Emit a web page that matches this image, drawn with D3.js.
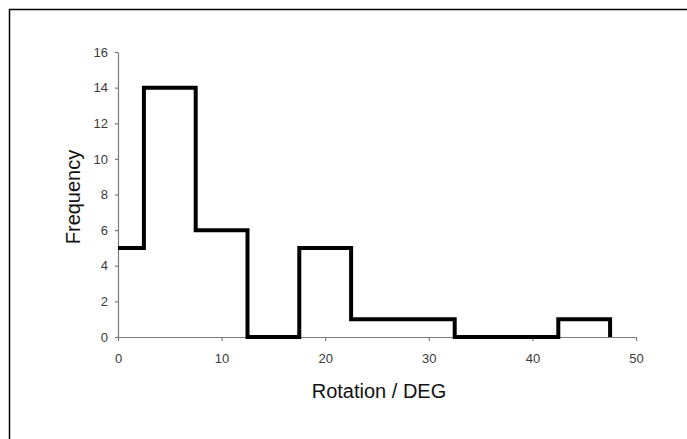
<!DOCTYPE html>
<html>
<head>
<meta charset="utf-8">
<script src="https://cdn.jsdelivr.net/npm/d3@7"></script>
<style>
  html, body { margin: 0; background: #fff; overflow: hidden; }
  svg { display: block; font-family: Arial, "Liberation Sans", sans-serif; }
</style>
</head>
<body>
<svg id="chart" width="687" height="439"></svg>
<script>
// histogram bins (degrees) and counts
const binEdges = [0, 2.5, 7.5, 12.5, 17.5, 22.5, 27.5, 32.5, 37.5, 42.5, 47.5];
const counts = [5, 14, 6, 0, 5, 1, 1, 0, 0, 1];
const xTicks = [0, 10, 20, 30, 40, 50];
const yTicks = [0, 2, 4, 6, 8, 10, 12, 14, 16];

const svg = d3.select("#chart");

// outer frame: only the top and left edges are inside the picture
svg.append("path")
  .attr("d", "M9.5,439 V9.5 H687")
  .attr("fill", "none")
  .attr("stroke", "#000")
  .attr("stroke-width", 1.5);

const x = d3.scaleLinear().domain([0, 50]).range([118, 636]);
const y = d3.scaleLinear().domain([0, 16]).range([337, 52]);

// x axis
const xAxis = svg.append("g")
  .attr("transform", "translate(0,337)")
  .call(d3.axisBottom(x).tickValues(xTicks).tickSize(4).tickSizeOuter(0).tickPadding(13));

// y axis
const yAxis = svg.append("g")
  .attr("transform", "translate(118,0)")
  .call(d3.axisLeft(y).tickValues(yTicks).tickSize(3).tickSizeOuter(0).tickPadding(7));

[xAxis, yAxis].forEach((g) => {
  g.select(".domain").attr("stroke", "#7a7a7a").attr("stroke-width", 1.2);
  g.selectAll(".tick line").attr("stroke", "#7a7a7a").attr("stroke-width", 1.2);
  g.selectAll(".tick text")
    .attr("fill", "#3a3a3a")
    .style("font-size", "13px")
    .style("font-family", "Arial, 'Liberation Sans', sans-serif");
});

// step outline of the histogram
const points = counts.map((c, i) => [binEdges[i], c]);
points.push([binEdges[binEdges.length - 1], 0]);

const line = d3.line()
  .x((d) => x(d[0]))
  .y((d) => y(d[1]))
  .curve(d3.curveStepAfter);

svg.append("path")
  .datum(points)
  .attr("d", line)
  .attr("fill", "none")
  .attr("stroke", "#000")
  .attr("stroke-width", 4)
  .attr("stroke-linejoin", "miter");

// axis titles
svg.append("text")
  .attr("x", 379)
  .attr("y", 398)
  .attr("text-anchor", "middle")
  .style("font-size", "20px")
  .attr("fill", "#111")
  .text("Rotation / DEG");

svg.append("text")
  .attr("transform", "translate(80,197) rotate(-90)")
  .attr("text-anchor", "middle")
  .style("font-size", "20px")
  .attr("fill", "#111")
  .text("Frequency");
</script>
</body>
</html>
